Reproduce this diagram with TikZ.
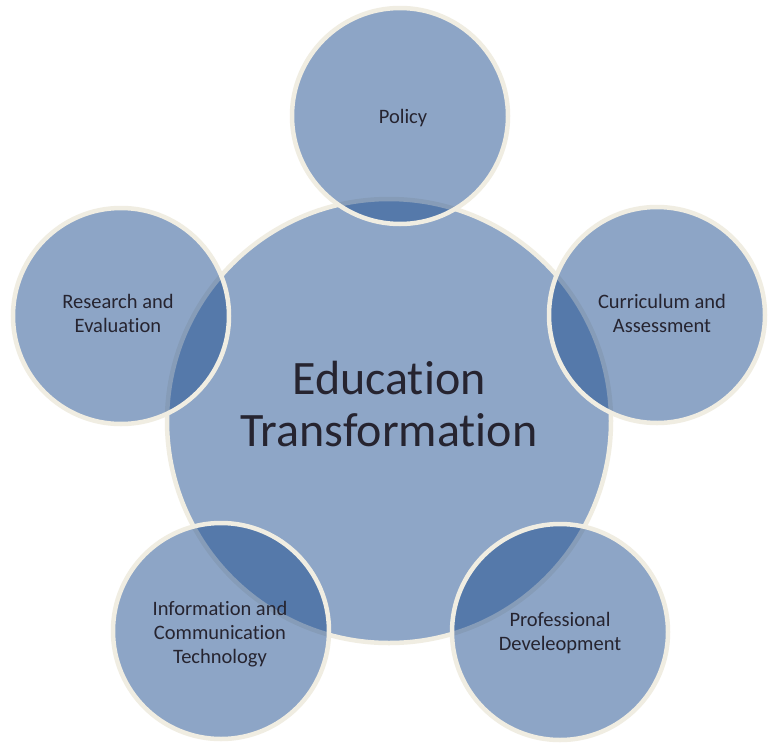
\documentclass[tikz,border=0pt]{standalone}
\usepackage{fontspec}
\setmainfont[Ligatures=CommonOff]{Carlito}
\definecolor{hubfill}{RGB}{142,166,199}
\definecolor{petal}{RGB}{29,77,143}
\definecolor{rim}{RGB}{240,237,226}
\definecolor{ink}{RGB}{38,36,48}
\tikzset{
  hub/.style={circle, draw=rim, line width=4.5pt, fill=hubfill, minimum size=444pt, inner sep=0pt},
  petalc/.style={circle, draw=rim, line width=4.5pt, fill=petal, fill opacity=0.5, draw opacity=1, minimum size=216pt, inner sep=0pt},
  lbl/.style={text=ink, align=center, font=\fontsize{20.5}{24}\selectfont},
}
\begin{document}
\begin{tikzpicture}[x=1pt,y=-1pt]
\useasboundingbox (0,0) rectangle (768,747);
\fill[white] (0,0) rectangle (768,747);
\node[hub] (hubc) at (389,421) {};
\node[petalc] (pol) at (400,116) {};
\node[petalc] (res) at (121,316) {};
\node[petalc] (cur) at (657,315) {};
\node[petalc] (ict) at (221,631) {};
\node[petalc] (pro) at (560,632) {};
\node[lbl] (tpol) at (403,118) {Policy};
\node[lbl] (tres) at (118,313) {Research and\\Evaluation};
\node[lbl] (tcur) at (662,313) {Curriculum and\\Assessment};
\node[lbl] (tict) at (220,634) {Information and\\Communication\\Technology};
\node[lbl] (tpro) at (560,633) {Professional\\Develeopment};
\node[text=ink, align=center, font=\fontsize{48}{52}\selectfont] (thub) at (389,404) {Education\\Transformation};
\end{tikzpicture}
\end{document}
